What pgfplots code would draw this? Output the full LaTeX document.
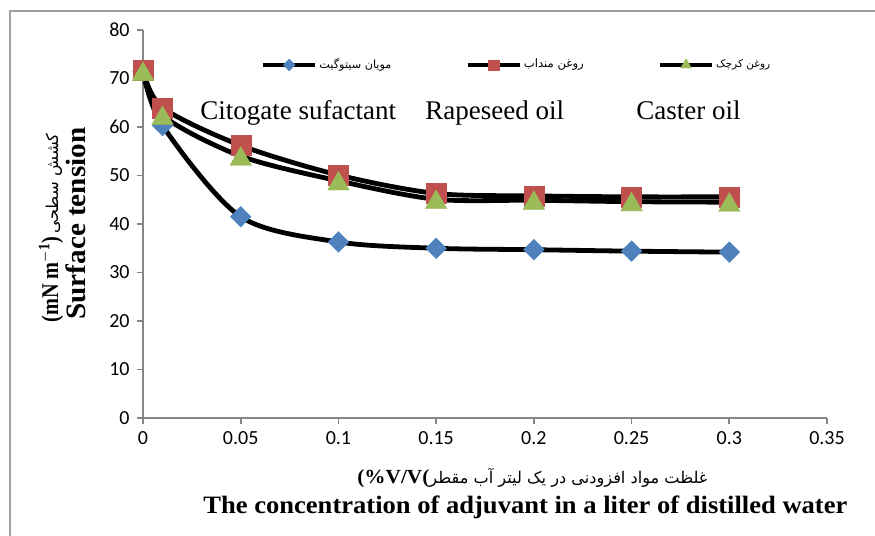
\documentclass[border=0pt]{standalone}
\usepackage{fontspec}
\usepackage{graphicx}
\usepackage{pgfplots}
\pgfplotsset{compat=1.18}
\setmainfont{Liberation Serif}
\newfontfamily\fafont[Script=Arabic]{DejaVu Sans}
\newfontfamily\calfont{Carlito}
\TeXXeTstate=1
\definecolor{axgray}{RGB}{134,134,134}
\definecolor{cblue}{RGB}{79,129,189}
\definecolor{cred}{RGB}{192,80,77}
\definecolor{cgreen}{RGB}{155,187,89}
\begin{document}
\begin{tikzpicture}
\path[use as bounding box] (0,0) rectangle (437.5pt,268pt);
\begin{axis}[
  at={(71.5pt,59pt)}, anchor=south west, scale only axis,
  width=342pt, height=194pt,
  xmin=0, xmax=0.35, ymin=0, ymax=80,
  axis x line*=bottom, axis y line*=left,
  axis line style={axgray, line width=0.8pt, -},
  xtick={0,0.05,0.1,0.15,0.2,0.25,0.3,0.35},
  xticklabels={0,0.05,0.1,0.15,0.2,0.25,0.3,0.35},
  ytick={0,10,20,30,40,50,60,70,80},
  yticklabels={0,10,20,30,40,50,60,70,80},
  tick align=outside, major tick length=3.2pt,
  tick style={axgray, line width=0.8pt},
  tick label style={font=\calfont\fontsize{10}{12}\selectfont, text=black},
  clip=false,
  legend columns=3,
  legend style={draw=none, fill=none, inner sep=0pt, at={(0.172,0.91)}, anchor=west,
    nodes={inner sep=1pt},
    /tikz/every even column/.append style={column sep=36pt}},
  legend image code/.code={\draw[mark repeat=2,mark phase=2] plot coordinates {(0pt,0pt) (13pt,0pt) (26pt,0pt)};},
]
\addlegendimage{black, line width=2.2pt, mark=square*, mark size=2.1pt, mark options={solid, rotate=45, fill=cblue, draw=cblue, line width=0.1pt}}
\addlegendentry{\resizebox{36pt}{!}{\fafont\beginR مویان سیتوگیت\endR}}
\addlegendimage{black, line width=2.2pt, mark=square*, mark size=2.6pt, mark options={solid, fill=cred, draw=cred, line width=0.1pt}}
\addlegendentry{\resizebox{30pt}{!}{\fafont\beginR روغن منداب\endR}}
\addlegendimage{black, line width=2.2pt, mark=triangle*, mark size=3.2pt, mark options={solid, fill=cgreen, draw=cgreen, line width=0.1pt}}
\addlegendentry{\resizebox{27pt}{!}{\fafont\beginR روغن کرچک\endR}}

\addplot[forget plot, black, line width=2.4pt, smooth, mark=square*, mark size=3.7pt,
  mark options={solid, rotate=45, fill=cblue, draw=cblue, line width=0.1pt}]
  coordinates {(0,71.5) (0.01,60.3) (0.05,41.5) (0.1,36.3) (0.15,35.0) (0.2,34.7) (0.25,34.4) (0.3,34.2)};
\addplot[forget plot, black, line width=2.4pt, smooth, mark=square*, mark size=5pt,
  mark options={solid, fill=cred, draw=cred, line width=0.1pt}]
  coordinates {(0,71.7) (0.01,64.0) (0.05,56.2) (0.1,50.1) (0.15,46.3) (0.2,45.8) (0.25,45.6) (0.3,45.6)};
\addplot[forget plot, black, line width=2.4pt, smooth, mark=triangle*, mark size=6.3pt,
  mark options={solid, fill=cgreen, draw=cgreen, line width=0.1pt, yshift=-1.5pt}]
  coordinates {(0,71.5) (0.01,62.4) (0.05,54.0) (0.1,48.9) (0.15,45.1) (0.2,44.9) (0.25,44.6) (0.3,44.5)};
\end{axis}
\begin{scope}[x=0.5pt, y=-0.5pt, yshift=268pt]
\draw[gray!75, line width=1.2pt] (10,536) -- (10,11) -- (875,11);
\node[anchor=base west, inner sep=0, font=\fontsize{13.5}{16}\selectfont] at (200,120) {Citogate sufactant};
\node[anchor=base west, inner sep=0, font=\fontsize{13.5}{16}\selectfont] at (425,120) {Rapeseed oil};
\node[anchor=base west, inner sep=0, font=\fontsize{13.5}{16}\selectfont] at (636,120) {Caster oil};
\node[anchor=base west, inner sep=0] at (203,514) {\resizebox{322pt}{\height}{\fontsize{12.5}{14}\selectfont\bfseries The concentration of adjuvant in a liter of distilled water}};
\node[anchor=base west, inner sep=0] at (357,484) {\resizebox{36pt}{\height}{\fontsize{10}{12}\selectfont\bfseries(\%V/V(}\resizebox{139pt}{!}{\fafont\beginR غلظت مواد افزودنی در یک لیتر آب مقطر\endR}};
\node[rotate=90, anchor=west, inner sep=0] at (51,323) {\resizebox{43pt}{\height}{\fontsize{12}{14}\selectfont\bfseries (mN m$^{\mathbf{-1}}$)}\,\resizebox{50pt}{!}{\fafont\beginR کشش سطحی\endR}};
\node[rotate=90, anchor=west, inner sep=0] at (76,320) {\resizebox{96pt}{\height}{\fontsize{14}{16}\selectfont\bfseries Surface tension}};
\end{scope}
\end{tikzpicture}
\end{document}
